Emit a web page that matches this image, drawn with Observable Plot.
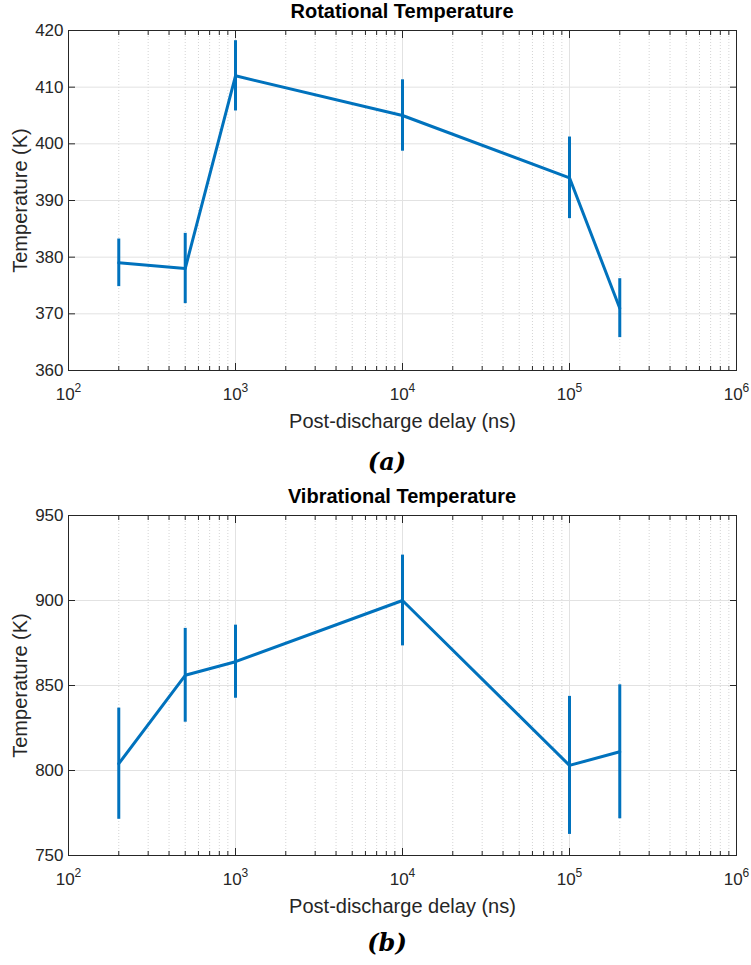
<!DOCTYPE html>
<html><head><meta charset="utf-8">
<script src="https://cdn.jsdelivr.net/npm/d3@7"></script>
<script src="https://cdn.jsdelivr.net/npm/@observablehq/plot@0.6"></script>
<style>
body{margin:0;background:#fff;font-family:"Liberation Sans",Arial,sans-serif;}
#wrap{position:relative;width:751px;height:965px;overflow:hidden;}
.panel{position:absolute;left:0;width:751px;}
.title{position:absolute;left:68px;width:668px;text-align:center;font-weight:bold;font-size:20px;line-height:22px;color:#000;}
.cap{position:absolute;left:287px;width:200px;text-align:center;font-family:"DejaVu Serif",serif;font-weight:bold;font-style:italic;font-size:24px;line-height:28px;color:#000;}
</style></head>
<body>
<div id="wrap">
  <div class="panel" id="p1" style="top:0px"></div>
  <div class="panel" id="p2" style="top:485px"></div>
  <div class="title" style="top:0px">Rotational Temperature</div>
  <div class="cap" style="top:448px">(a)</div>
  <div class="title" style="top:485px">Vibrational Temperature</div>
  <div class="cap" style="top:929px">(b)</div>
</div>
<script>
// ---- data ----
const delays = [200, 500, 1000, 10000, 100000, 200000];
const rotTemp = [379, 378, 412, 405, 394, 371];
const rotErr = [4.2, 6.2, 6.2, 6.3, 7.2, 5.2];
const vibTemp = [804, 856, 864, 900, 803, 811];
const vibErr = [32.7, 27.6, 21.5, 26.7, 40.6, 39.4];
const xExponents = [2, 3, 4, 5, 6];
const rotYTicks = [360, 370, 380, 390, 400, 410, 420];
const vibYTicks = [750, 800, 850, 900, 950];
const xLabel = "Post-discharge delay (ns)";
const yLabel = "Temperature (K)";

const majorX = xExponents.map(e => Math.pow(10, e));
const minorX = [];
for (const e of xExponents.slice(0, -1)) for (let k = 2; k <= 9; k++) minorX.push(k * Math.pow(10, e));

const blue = "#0072BD";
const axisCol = "#262626";

function panel(temps, errs, yTicks) {
  const data = delays.map((x, i) => ({x, y: temps[i], e: errs[i]}));
  const yDomain = [yTicks[0], yTicks[yTicks.length - 1]];
  const chart = Plot.plot({
    width: 751, height: 440,
    marginTop: 30, marginBottom: 70, marginLeft: 68, marginRight: 15,
    x: {type: "log", domain: [majorX[0], majorX[majorX.length - 1]]},
    y: {domain: yDomain},
    style: {fontFamily: "Liberation Sans, Arial, sans-serif", fontSize: "17px", color: axisCol, background: "white", overflow: "visible"},
    marks: [
      Plot.ruleX(minorX, {stroke: "#d4d4d4", strokeDasharray: "1,2"}),
      Plot.ruleX(majorX, {stroke: "#e2e2e2"}),
      Plot.ruleY(yTicks, {stroke: "#e2e2e2"}),
      Plot.ruleX(data, {x: "x", y1: d => d.y - d.e, y2: d => d.y + d.e, stroke: blue, strokeWidth: 3}),
      Plot.line(data, {x: "x", y: "y", stroke: blue, strokeWidth: 3}),
      Plot.frame({stroke: axisCol}),
      // inward ticks
      Plot.axisX(majorX, {anchor: "bottom", tickSize: -7, tickFormat: () => "", label: null, stroke: axisCol}),
      Plot.axisX(majorX, {anchor: "top", tickSize: -7, tickFormat: () => "", label: null, stroke: axisCol}),
      Plot.axisX(minorX, {anchor: "bottom", tickSize: -4, tickFormat: () => "", label: null, stroke: axisCol}),
      Plot.axisX(minorX, {anchor: "top", tickSize: -4, tickFormat: () => "", label: null, stroke: axisCol}),
      Plot.axisY(yTicks, {anchor: "left", tickSize: -7, tickFormat: () => "", label: null, stroke: axisCol}),
      Plot.axisY(yTicks, {anchor: "right", tickSize: -7, tickFormat: () => "", label: null, stroke: axisCol}),
      // labels
      Plot.axisX(majorX, {anchor: "bottom", tickSize: 0, tickPadding: 17, tickFormat: d => String(Math.round(Math.log10(d))),
        label: xLabel, labelAnchor: "center", labelOffset: 57, labelArrow: "none", fill: axisCol}),
      Plot.axisY(yTicks, {anchor: "left", tickSize: 0, tickPadding: 5, tickFormat: d => String(d),
        label: yLabel, labelAnchor: "center", labelOffset: 56, labelArrow: "none", fill: axisCol})
    ]
  });
  const svg = d3.select(chart);
  svg.selectAll('g[aria-label="x-axis tick label"] text').each(function() {
    const t = this.textContent;
    if (!t) return;
    const sel = d3.select(this);
    sel.text("10");
    sel.append("tspan").attr("dy", "-8px").attr("font-size", "12px").text(t);
  });
  svg.selectAll('g[aria-label="x-axis label"] text, g[aria-label="y-axis label"] text').style("font-size", "20px");
  return chart;
}

document.getElementById("p1").appendChild(panel(rotTemp, rotErr, rotYTicks));
document.getElementById("p2").appendChild(panel(vibTemp, vibErr, vibYTicks));
</script>
</body></html>
